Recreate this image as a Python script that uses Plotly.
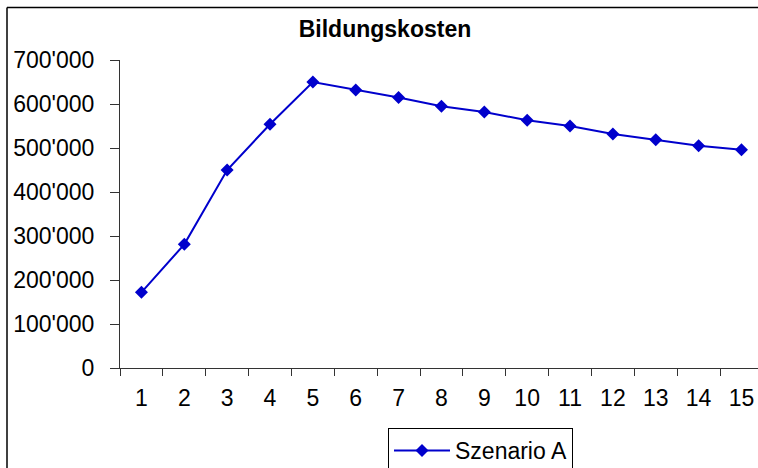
import plotly.graph_objects as go

categories = [str(i) for i in range(1, 16)]
szenario_a = [172000, 281000, 450000, 554000, 650000, 632000, 615000, 595000,
              582000, 563000, 550000, 532000, 519000, 505000, 496000]
y_ticks = [0, 100000, 200000, 300000, 400000, 500000, 600000, 700000]

BLUE = "#0000CC"
FONT = "Liberation Sans, Arial, sans-serif"

fig = go.Figure()
fig.add_trace(go.Scatter(
    x=categories, y=szenario_a, name="Szenario A", mode="lines+markers",
    line=dict(color=BLUE, width=2),
    marker=dict(symbol="diamond", size=10, color=BLUE),
))

L, T, B = 120, 60, 100
W, H = 758, 468
plot_w = W - L
plot_h = H - T - B

fig.update_layout(
    width=W, height=H,
    margin=dict(l=L, r=0, t=T, b=B, pad=0, autoexpand=False),
    paper_bgcolor="white", plot_bgcolor="white",
    separators=".'",
    font=dict(family=FONT, size=23, color="black"),
    title=dict(text="<b>Bildungskosten</b>", x=(385 - L) / plot_w, xref="paper",
               xanchor="center", y=1 - 29 / H, yanchor="middle",
               font=dict(size=23, color="black", family=FONT)),
    showlegend=True,
    legend=dict(x=(388 - L) / plot_w, xanchor="left",
                y=-(428 - (T + plot_h)) / plot_h, yanchor="top",
                bordercolor="black", borderwidth=1, bgcolor="white",
                font=dict(size=23, family=FONT), itemwidth=56,
                tracegroupgap=0),
    xaxis=dict(type="category", range=[-0.5, -0.5 + plot_w / 42.86],
               tickson="boundaries", ticks="outside", ticklen=7,
               tickcolor="#333", showline=True, linecolor="#333", linewidth=1,
               showgrid=False, zeroline=False, tickfont=dict(size=23),
               ticklabelstandoff=9),
    yaxis=dict(range=[0, 700000], tickvals=y_ticks, tickformat=",",
               ticks="outside", ticklen=9, tickcolor="#333", showline=True,
               linecolor="#333", linewidth=1, showgrid=False, zeroline=False,
               tickfont=dict(size=23), ticklabelstandoff=11),
    shapes=[
        dict(type="line", xref="paper", yref="paper",
             x0=(7 - L) / plot_w, x1=(7 - L) / plot_w,
             y0=(T + plot_h - 7.5) / plot_h, y1=-(H - T - plot_h + 20) / plot_h,
             line=dict(color="black", width=1.5)),
        dict(type="line", xref="paper", yref="paper",
             x0=(7 - L) / plot_w, x1=1.05,
             y0=(T + plot_h - 7.5) / plot_h, y1=(T + plot_h - 7.5) / plot_h,
             line=dict(color="black", width=1.5)),
    ],
)

fig.write_html("out.html", config={"displayModeBar": False},
               post_script="document.body.style.margin='0';")
